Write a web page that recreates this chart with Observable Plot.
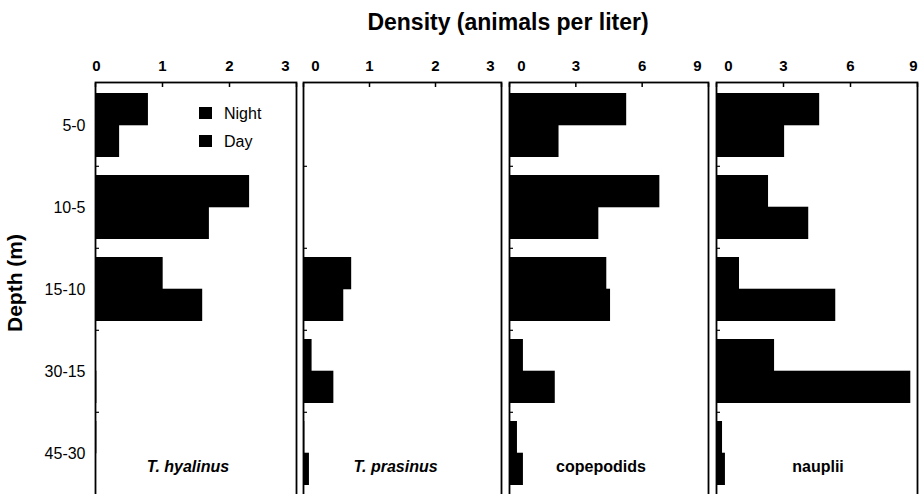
<!DOCTYPE html>
<html>
<head>
<meta charset="utf-8">
<script src="https://cdn.jsdelivr.net/npm/d3@7"></script>
<script src="https://cdn.jsdelivr.net/npm/@observablehq/plot@0.6"></script>
<style>
  html, body { margin: 0; padding: 0; background: #fff; overflow: hidden; }
  #wrap { position: relative; width: 919px; height: 494px; overflow: hidden;
          font-family: "Liberation Sans", Arial, Helvetica, sans-serif; color: #000; }
  .panel { position: absolute; top: 0; }
  #title { position: absolute; left: 258px; width: 500px; top: 9px; text-align: center;
           font-weight: bold; font-size: 23px; line-height: 26px; z-index: 5; }
  #ylab { position: absolute; left: 15px; top: 283px; width: 0; height: 0; z-index: 5; }
  #ylab span { position: absolute; left: 0; top: 0; white-space: nowrap; font-weight: bold; font-size: 21px;
               line-height: 20px; transform: translate(-50%, -50%) rotate(-90deg); }
  .lg { position: absolute; z-index: 5; font-size: 16px; line-height: 16px; }
  .sw { position: absolute; width: 13px; height: 12px; background: #000; z-index: 5; }
</style>
</head>
<body>
<div id="wrap">
  <div id="title">Density (animals per liter)</div>
</div>
<script>
// ---- data ----
const depths = ["5-0", "10-5", "15-10", "30-15", "45-30"];
const taxa = ["T. hyalinus", "T. prasinus", "copepodids", "nauplii"];
const periods = ["Night", "Day"];
const yTitle = "Depth (m)";
const hyalinusNight = [0.79, 2.30, 1.01, 0, 0.02];
const hyalinusDay = [0.36, 1.70, 1.60, 0.02, 0];
const prasinusNight = [0, 0, 0.73, 0.13, 0.02];
const prasinusDay = [0, 0, 0.61, 0.46, 0.09];
const copepodidsNight = [5.3, 6.8, 4.4, 0.63, 0.36];
const copepodidsDay = [2.24, 4.04, 4.57, 2.07, 0.63];
const naupliiNight = [4.62, 2.33, 1.03, 2.6, 0.27];
const naupliiDay = [3.05, 4.13, 5.34, 8.7, 0.40];
const xDomains = [[0, 3], [0, 3], [0, 9], [0, 9]];
const xTicks = [[0, 1, 2, 3], [0, 1, 2, 3], [0, 3, 6, 9], [0, 3, 6, 9]];

const nightSeries = [hyalinusNight, prasinusNight, copepodidsNight, naupliiNight];
const daySeries = [hyalinusDay, prasinusDay, copepodidsDay, naupliiDay];

// ---- layout ----
const H = 500, MT = 82, MB = 5;
const layout = [
  {left: 0,   width: 300, ml: 95, mr: 4, firstDx: 1,  lastDx: -11, labelDx: -8},
  {left: 300, width: 205, ml: 3,  mr: 4, firstDx: 12, lastDx: -11, labelDx: -7},
  {left: 505, width: 207, ml: 4,  mr: 4, firstDx: 12, lastDx: -11, labelDx: -8},
  {left: 712, width: 207, ml: 4,  mr: 2, firstDx: 12, lastDx: -4,  labelDx: 1}
];
const PI = 0.22, PO = 0.11;
const step = (H - MT - MB) / (depths.length - PI + 2 * PO);
const bandW = step * (1 - PI);
const half = bandW / 2;
const gap = step * PI;
const font = '"Liberation Sans", Arial, Helvetica, sans-serif';

const wrap = document.getElementById("wrap");

taxa.forEach((taxon, i) => {
  const L = layout[i];
  const rows = depths.map((d, j) => ({depth: d, night: nightSeries[i][j], day: daySeries[i][j]}));
  const ticks = xTicks[i];
  const plotW = L.width - L.ml - L.mr;
  const tickLen = (xDomains[i][1] - xDomains[i][0]) * 4 / plotW;

  const marks = [
    Plot.barX(rows, {x: "night", y: "depth", fill: "black", insetBottom: half - 0.5}),
    Plot.barX(rows, {x: "day", y: "depth", fill: "black", insetTop: half - 0.5}),
    // small inward ticks on the left frame, between depth groups
    Plot.barX(depths.slice(0, -1), {x1: 0, x2: tickLen, y: d => d, fill: "black",
      insetTop: bandW + gap / 2 - 0.8, insetBottom: -(gap / 2 + 0.8)}),
    Plot.frame({stroke: "black", strokeWidth: 1.8}),
    Plot.axisX({ticks: ticks, anchor: "top", tickSize: -4, tickFormat: () => "", strokeWidth: 1.5}),
    Plot.text(ticks.slice(0, 1), {x: d => d, frameAnchor: "top", lineAnchor: "middle", dy: -16, dx: L.firstDx, text: d => String(d), fontWeight: "bold", fontSize: 15}),
    Plot.text(ticks.slice(1, -1), {x: d => d, frameAnchor: "top", lineAnchor: "middle", dy: -16, text: d => String(d), fontWeight: "bold", fontSize: 15}),
    Plot.text(ticks.slice(-1), {x: d => d, frameAnchor: "top", lineAnchor: "middle", dy: -16, dx: L.lastDx, text: d => String(d), fontWeight: "bold", fontSize: 15}),
    Plot.text([taxon], {frameAnchor: "bottom", lineAnchor: "middle", dy: -29, dx: L.labelDx, text: d => d, fontWeight: "bold", fontStyle: i < 2 ? "italic" : "normal", fontSize: 16})
  ];
  if (i === 0) {
    marks.push(Plot.axisY({anchor: "left", tickSize: 0, tickPadding: 10, fontSize: 16, label: null}));
  }

  const yOpts = {domain: depths, paddingInner: PI, paddingOuter: PO};
  if (i !== 0) yOpts.axis = null;

  const svg = Plot.plot({
    width: L.width,
    height: H,
    marginTop: MT,
    marginBottom: MB,
    marginLeft: L.ml,
    marginRight: L.mr,
    style: {fontFamily: font, fontSize: "14px", color: "black", background: "transparent", overflow: "visible"},
    x: {domain: xDomains[i]},
    y: yOpts,
    marks
  });
  svg.classList.add("panel");
  svg.style.left = L.left + "px";
  svg.style.position = "absolute";
  svg.style.top = "0px";
  wrap.appendChild(svg);
});

// y-axis title
const yl = document.createElement("div");
yl.id = "ylab";
const ys = document.createElement("span");
ys.textContent = yTitle;
yl.appendChild(ys);
wrap.appendChild(yl);

// legend (both series drawn in black, as in the reference)
const legendPos = [{sq: 107, tx: 106}, {sq: 135, tx: 134}];
periods.forEach((p, k) => {
  const sw = document.createElement("div");
  sw.className = "sw";
  sw.style.left = "199px";
  sw.style.top = legendPos[k].sq + "px";
  wrap.appendChild(sw);
  const t = document.createElement("div");
  t.className = "lg";
  t.style.left = "224px";
  t.style.top = legendPos[k].tx + "px";
  t.textContent = p;
  wrap.appendChild(t);
});
</script>
</body>
</html>
